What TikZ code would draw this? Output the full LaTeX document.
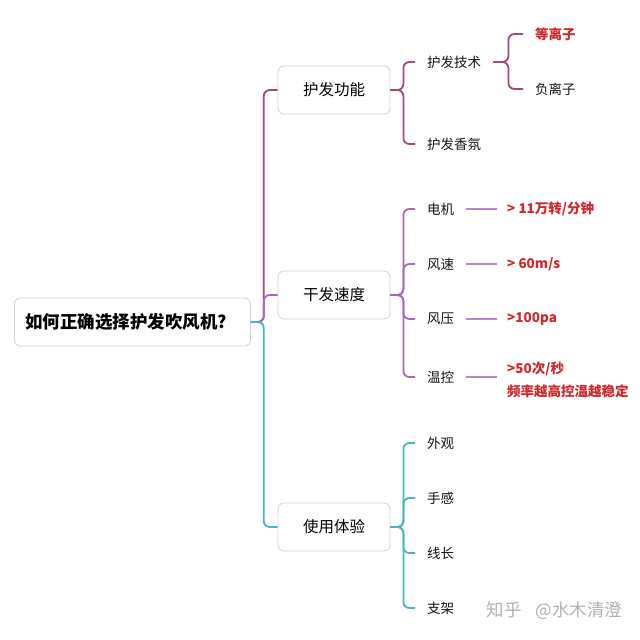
\documentclass[tikz,border=0pt]{standalone}
\usepackage{fontspec}
\setmainfont{Noto Sans CJK SC}
\usepackage{xcolor}
\usepackage{tikz}
\usetikzlibrary{positioning}

\definecolor{hfpink}{HTML}{A8467C}
\definecolor{hfviolet}{HTML}{A567C0}
\definecolor{hflilac}{HTML}{B784CC}
\definecolor{hfcyan}{HTML}{46B3C8}
\definecolor{hfred}{HTML}{D0282A}
\definecolor{hfgray}{HTML}{D2D2D2}

\tikzset{
    rootbox/.style={draw=hfgray, line width=0.8pt, rounded corners=6pt, fill=white,
        font=\fontsize{17.5}{20}\selectfont\bfseries, text width=214pt, align=left,
        inner xsep=11pt, minimum height=48pt, anchor=west},
    topicbox/.style={draw=hfgray, line width=0.8pt, rounded corners=6pt, fill=white,
        font=\fontsize{15.5}{18}\selectfont, minimum width=112pt, minimum height=48pt},
    leaf/.style={font=\fontsize{13.5}{16}\selectfont, text=black!92,
        inner xsep=12pt, inner ysep=2pt, anchor=west},
    hotleaf/.style={leaf, font=\fontsize{13.5}{16}\selectfont\bfseries, text=hfred},
    value/.style={font=\fontsize{13.5}{23}\selectfont\bfseries, text=hfred,
        inner xsep=10pt, anchor=west, align=left},
    link/.style={line width=1.8pt, rounded corners=6pt},
    valuelink/.style={line width=1.4pt, hflilac}
}

\begin{document}
\begin{tikzpicture}[x=1pt, y=-1pt]
    \fill[white] (0,0) rectangle (640,640);
    \useasboundingbox (0,0) rectangle (640,640);

    % main topics
    \node[rootbox] (root) at (14,322) {如何正确选择护发吹风机?};
    \node[topicbox] (func) at (334,90) {护发功能};
    \node[topicbox] (speed) at (334,295) {干发速度};
    \node[topicbox] (feel) at (334,527) {使用体验};

    \draw[link, hfpink] (root.east) -- ++(13,0) |- (func.west);
    \draw[link, hfviolet] (root.east) -- ++(13,0) |- (speed.west);
    \draw[link, hfcyan] (root.east) -- ++(13,0) |- (feel.west);

    % 护发功能
    \node[leaf] (tech) at (415,62) {护发技术};
    \node[leaf] (scent) at (415,144) {护发香氛};
    \node[hotleaf] (plasma) at (523,34) {等离子};
    \node[leaf] (anion) at (523,89) {负离子};

    \draw[link, hfpink] (func.east) -- ++(13,0) |- (tech.west);
    \draw[link, hfpink] (func.east) -- ++(13,0) |- (scent.west);
    \draw[link, hfpink] (tech.east) -- ++(15,0) |- (plasma.west);
    \draw[link, hfpink] (tech.east) -- ++(15,0) |- (anion.west);

    % 干发速度
    \node[leaf] (motor) at (415,209) {电机};
    \node[leaf] (wind) at (415,264) {风速};
    \node[leaf] (press) at (415,319) {风压};
    \node[leaf] (temp) at (415,377) {温控};

    \node[value] (motorv) at (497,209) {> 11万转/分钟};
    \node[value] (windv) at (497,264) {> 60m/s};
    \node[value] (pressv) at (497,319) {>100pa};
    \node[value] (tempv) at (497,380) {>50次/秒\\频率越高控温越稳定};

    \draw[link, hfviolet] (speed.east) -- ++(13,0) |- (motor.west);
    \draw[link, hfviolet] (speed.east) -- ++(13,0) |- (wind.west);
    \draw[link, hfviolet] (speed.east) -- ++(13,0) |- (press.west);
    \draw[link, hfviolet] (speed.east) -- ++(13,0) |- (temp.west);

    \draw[valuelink] (motor.east) -- (motorv.west |- motor.east);
    \draw[valuelink] (wind.east) -- (windv.west |- wind.east);
    \draw[valuelink] (press.east) -- (pressv.west |- press.east);
    \draw[valuelink] (temp.east) -- (tempv.west |- temp.east);

    % 使用体验
    \node[leaf] (look) at (415,443) {外观};
    \node[leaf] (grip) at (415,498) {手感};
    \node[leaf] (cord) at (415,553) {线长};
    \node[leaf] (stand) at (415,608) {支架};

    \draw[link, hfcyan] (feel.east) -- ++(13,0) |- (look.west);
    \draw[link, hfcyan] (feel.east) -- ++(13,0) |- (grip.west);
    \draw[link, hfcyan] (feel.east) -- ++(13,0) |- (cord.west);
    \draw[link, hfcyan] (feel.east) -- ++(13,0) |- (stand.west);

    \node[font=\fontsize{17.5}{20}\selectfont, text=black!30, anchor=west] (mark) at (483,611) {知乎\hspace{14pt}@水木清澄};
\end{tikzpicture}
\end{document}
